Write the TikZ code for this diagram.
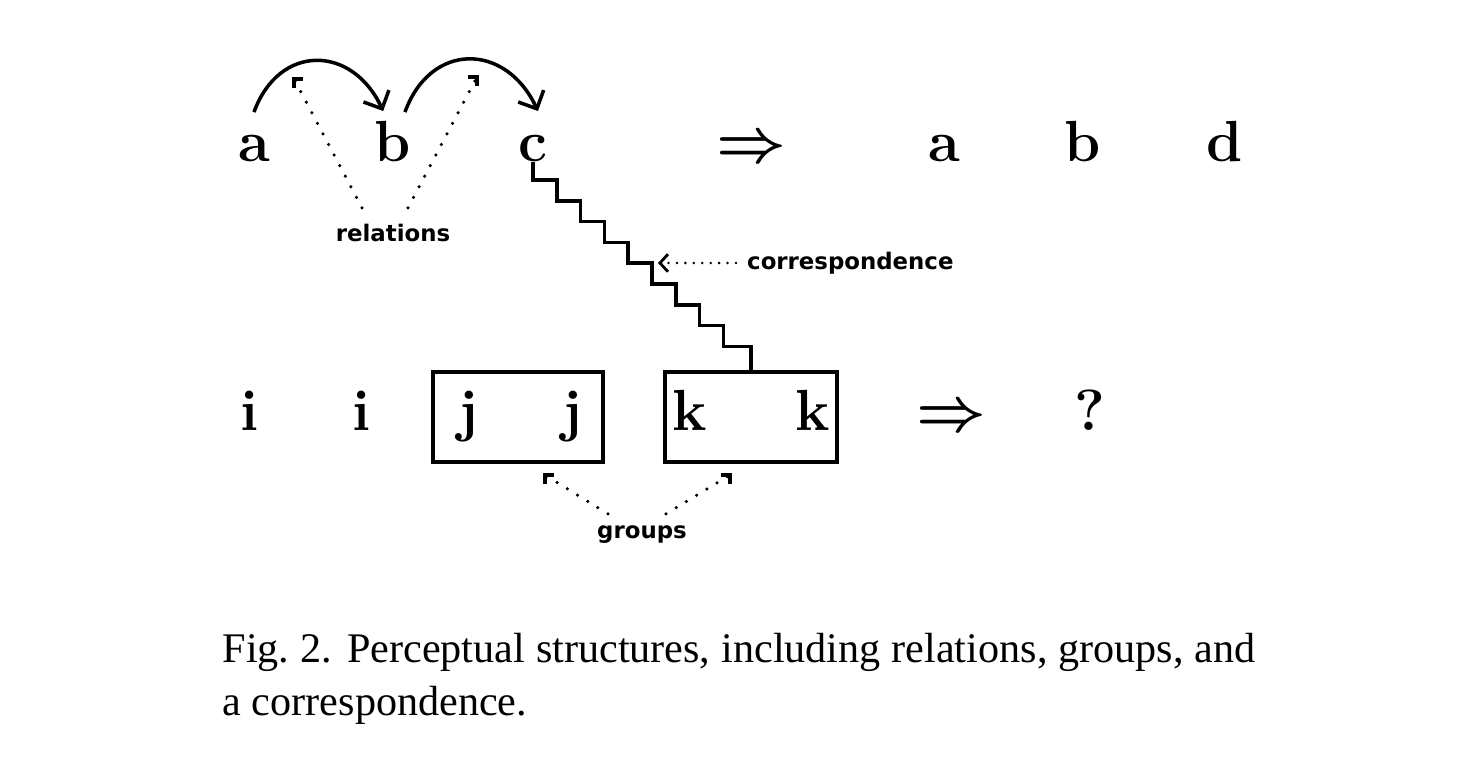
\documentclass[tikz,border=0pt]{standalone}
\usepackage{fontspec}
\usepackage{amsmath,amssymb}
\newfontfamily\capfont{Liberation Serif}
\newfontfamily\notefont{DejaVu Sans}
\usepackage{tikz}
\usetikzlibrary{arrows.meta,positioning}

\tikzset{
  letter/.style={font=\fontsize{16.5}{18}\selectfont\bfseries\addfontfeature{FakeBold=1.2}, inner sep=0pt, text height=11.5pt, anchor=base},
  note/.style={font=\notefont\bfseries\fontsize{6.5}{7}\selectfont, inner sep=1pt},
  relarc/.style={line width=1pt, -{Straight Barb[length=4pt,width=8pt,line width=1pt]}},
  dotline/.style={line width=1pt, line cap=round, dash pattern=on 0pt off 3.4pt},
  corner/.style={line width=0.9pt},
  grpbox/.style={draw, line width=1pt, minimum height=9mm},
  stair/.style={line width=1pt},
}

\begin{document}
\begin{tikzpicture}[x=0.1mm,y=0.1mm]
\useasboundingbox (0,0) rectangle (1476,770);
% top row
\node[letter] (a1) at (254,608) {a};
\node[letter] (b1) at (393,608) {b};
\node[letter] (c1) at (533,608) {c};
\node[letter] (to1) at (751,608) {$\boldsymbol{\Rightarrow}$};
\node[letter] (a2) at (944,608) {a};
\node[letter] (b2) at (1083,608) {b};
\node[letter] (d2) at (1225,608) {d};
% bottom row
\node[letter] (i1) at (250,339) {i};
\node[letter] (i2) at (362,339) {i};
\node[letter] (j1) at (468,339) {j};
\node[letter] (j2) at (572,339) {j};
\node[letter] (k1) at (690,339) {k};
\node[letter] (k2) at (813,339) {k};
\node[letter] (to2) at (951,339) {$\boldsymbol{\Rightarrow}$};
\node[letter] (q2) at (1090,339) {?};
\node[grpbox, minimum width=17mm] (jbox) at (518,353) {};
\node[grpbox, minimum width=17.2mm] (kbox) at (751,353) {};

% relations
\draw[relarc] ([yshift=2.5pt]a1.north) to[out=70,in=115,looseness=1.45] ([xshift=-2.8pt,yshift=2.8pt]b1.north);
\draw[relarc] ([xshift=3.4pt,yshift=2.5pt]b1.north) to[out=70,in=115,looseness=1.45] ([xshift=1.4pt,yshift=2.8pt]c1.north);
\node[note] (rel) at (393,537) {relations};
\coordinate (rm1) at (294,691);
\coordinate (rm2) at (477,693);
\draw[dotline] (rel.north) ++(-31,12) -- (rm1);
\draw[dotline] (rel.north) ++(15,12) -- (rm2);
\draw[corner] (rm1) ++(0,-9) -- (rm1) -- ++(9,0);
\draw[corner] (rm2) ++(-9,0) -- (rm2) -- ++(0,-9);

% correspondence
\draw[stair] (c1.base) -- ++(0,-18) \foreach \s in {1,...,8} {-| ++(23.8,-20.8)} -| (kbox.north);
\node[note, anchor=west] (corr) at (743,507) {correspondence};
\coordinate (cp) at (658,507);
\draw[dotline, line width=0.8pt, dash pattern=on 0pt off 2.4pt, -{Straight Barb[length=2.3pt,width=5pt,line width=0.8pt]}] ([xshift=-2pt]corr.west) -- (cp);

% groups
\node[note] (grp) at (642,235) {groups};
\coordinate (gm1) at (545,295);
\coordinate (gm2) at (730,295);
\draw[dotline] (grp.north) ++(-34,8) -- (gm1);
\draw[dotline] (grp.north) ++(24,8) -- (gm2);
\draw[corner] (gm1) ++(0,-9) -- (gm1) -- ++(9,0);
\draw[corner] (gm2) ++(-9,0) -- (gm2) -- ++(0,-9);

% caption
\node[anchor=north west, inner sep=0pt, text width=103.3mm, align=justify,
      font=\capfont\fontsize{12}{15}\selectfont] (cap) at (222,137)
  {Fig.~2. Perceptual structures, including relations, groups, and\linebreak a correspondence.};
\end{tikzpicture}
\end{document}
